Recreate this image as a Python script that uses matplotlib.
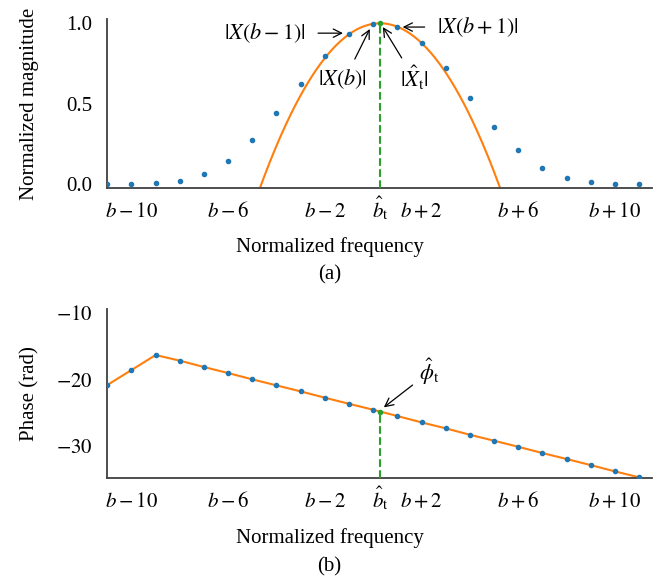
"""
Magnitude / phase of DFT bins around the peak with quadratic interpolation
"""
import numpy as np
import matplotlib.pyplot as plt

plt.rcParams['font.family'] = ['Liberation Serif', 'DejaVu Serif']
plt.rcParams['mathtext.fontset'] = 'stix'
plt.rcParams['font.size'] = 15
plt.rcParams['axes.unicode_minus'] = True

# bin offsets relative to b
bins = np.arange(-11, 12)
magnitude = [0.0, 0.0, 0.005, 0.022, 0.065, 0.146, 0.274, 0.44, 0.626, 0.80, 0.932,
             0.997, 0.979, 0.88, 0.72, 0.535, 0.357, 0.21, 0.104, 0.04, 0.011, 0.003, 0.003]
phase = [-20.83, -18.57, -16.30, -17.15, -18.11, -19.02, -19.97, -20.88, -21.79, -22.74,
         -23.66, -24.56, -25.51, -26.47, -27.37, -28.34, -29.24, -30.15, -31.10, -32.00,
         -32.92, -33.87, -34.77]
phase_ticks = [-10, -20, -30]

blue, orange, green = '#1f77b4', '#ff7f0e', '#2ca02c'
spine_color = '#404040'

# 抛物线插值：用峰值及其两侧三个点
k = int(np.argmax(magnitude))
coef = np.polyfit(bins[k - 1:k + 2], magnitude[k - 1:k + 2], 2)
b_hat = -coef[1] / (2 * coef[0])
peak = np.polyval(coef, b_hat)
phase_hat = np.interp(b_hat, bins, phase)

xticks = [-10, -6, -2, b_hat, 2, 6, 10]
xticklabels = ['$b-10$', '$b-6$', '$b-2$', r'$\hat{b}_\mathrm{t}$', '$b+2$', '$b+6$', '$b+10$']
xlim = (-11.02, 11.55)

W, H = 659, 576
fig = plt.figure(figsize=(W / 100, H / 100), dpi=100)
ax1 = fig.add_axes([0.162, 0.674, 0.828, 0.293])
ax2 = fig.add_axes([0.162, 0.170, 0.828, 0.2935])


def style(ax):
    for s in ['top', 'right']:
        ax.spines[s].set_visible(False)
    for s in ['left', 'bottom']:
        ax.spines[s].set_color(spine_color)
        ax.spines[s].set_linewidth(1.3)
    ax.tick_params(length=0)
    ax.tick_params(axis='y', pad=10.5)
    ax.tick_params(axis='x', pad=21)
    ax.set_xlim(*xlim)
    ax.set_xticks(xticks)
    ax.set_xticklabels(xticklabels, va='baseline')
    ax.yaxis.set_label_coords(-0.124, 0.5)


ann_size = 16
arrow = dict(arrowstyle='->', color='black', lw=0.9, shrinkA=0, shrinkB=0)

# (a) magnitude
style(ax1)
ylim1 = (-0.022, 1.027)
xs = np.linspace(xlim[0], xlim[1], 400)
ax1.plot(xs, np.polyval(coef, xs), color=orange, lw=1.5, zorder=2)
ax1.plot([b_hat, b_hat], [ylim1[0], peak], '--', color=green, lw=1.5, zorder=3)
ax1.plot(bins, magnitude, 'o', color=blue, ms=3, zorder=4)
ax1.plot([b_hat], [peak], 'o', color=green, ms=3, zorder=5)
ax1.set_ylim(*ylim1)
ax1.set_yticks([0, 0.5, 1.0])
ax1.set_yticklabels(['0.0', '0.5', '1.0'])
ax1.set_ylabel('Normalized magnitude')

ax1.text(-4.47, 0.94, r'$|X(b-1)|$', ha='center', va='center', fontsize=ann_size)
ax1.annotate('', xy=(-1.25, 0.939), xytext=(-2.28, 0.939), arrowprops=arrow)
ax1.text(-1.25, 0.654, r'$|X(b)|$', ha='center', va='center', fontsize=ann_size)
ax1.annotate('', xy=(-0.14, 0.965), xytext=(-0.76, 0.778), arrowprops=arrow)
ax1.text(1.72, 0.66, r'$|\hat{X}_\mathrm{t}|$', ha='center', va='center', fontsize=ann_size)
ax1.annotate('', xy=(0.40, 0.977), xytext=(1.18, 0.785), arrowprops=arrow)
ax1.text(4.32, 0.977, r'$|X(b+1)|$', ha='center', va='center', fontsize=ann_size)
ax1.annotate('', xy=(1.22, 0.977), xytext=(2.13, 0.977), arrowprops=arrow)

# (b) phase
style(ax2)
ylim2 = (-34.88, -9.35)
ax2.plot(bins, phase, '-', color=orange, lw=1.5, zorder=2)
ax2.plot([b_hat, b_hat], [ylim2[0], phase_hat], '--', color=green, lw=1.5, zorder=3)
ax2.plot(bins, phase, 'o', color=blue, ms=3, zorder=4)
ax2.plot([b_hat], [phase_hat], 'o', color=green, ms=3, zorder=5)
ax2.set_ylim(*ylim2)
ax2.set_yticks(phase_ticks)
ax2.set_yticklabels([f'${t}$' for t in phase_ticks])
ax2.set_ylabel('Phase (rad)')
ax2.text(2.34, -18.82, r'$\hat{\phi}_\mathrm{t}$', ha='center', va='center', fontsize=ann_size)
ax2.annotate('', xy=(0.44, -24.2), xytext=(1.63, -20.83), arrowprops=arrow)

# x labels and captions, centred on the figure
fig.text(0.5, 1 - 252 / H, 'Normalized frequency', ha='center', va='baseline')
fig.text(0.5, 1 - 279 / H, '(a)', ha='center', va='baseline')
fig.text(0.5, 1 - 543 / H, 'Normalized frequency', ha='center', va='baseline')
fig.text(0.5, 1 - 571 / H, '(b)', ha='center', va='baseline')

fig.savefig('out.png', dpi=100)
